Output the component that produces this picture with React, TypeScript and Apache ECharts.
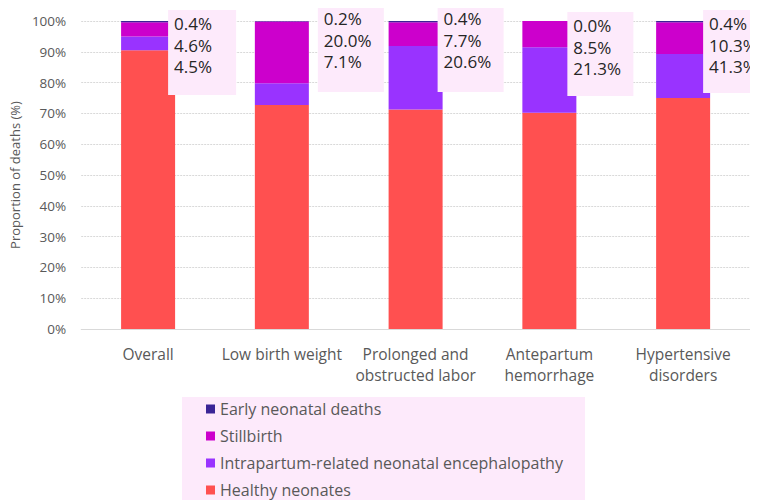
import React, { useEffect, useRef } from "react";
import * as echarts from "echarts";

const categories = [
  "Overall",
  "Low birth weight",
  "Prolonged and\nobstructed labor",
  "Antepartum\nhemorrhage",
  "Hypertensive\ndisorders",
];
const seriesNames = [
  "Early neonatal deaths",
  "Stillbirth",
  "Intrapartum-related neonatal encephalopathy",
  "Healthy neonates",
];
// values (%)
const healthy = [90.5, 72.7, 71.3, 70.2, 75.0];
const intrapartum = [4.5, 7.1, 20.6, 21.3, 14.3];
const stillbirth = [4.6, 20.0, 7.7, 8.5, 10.3];
const earlyNeonatal = [0.4, 0.2, 0.4, 0.0, 0.4];
// texts printed in the annotation boxes
const boxEarly = ["0.4%", "0.2%", "0.4%", "0.0%", "0.4%"];
const boxStill = ["4.6%", "20.0%", "7.7%", "8.5%", "10.3%"];
const boxIntra = ["4.5%", "7.1%", "20.6%", "21.3%", "41.3%"];

const colors = {
  early: "#3a2596",
  still: "#cc00cc",
  intra: "#9933ff",
  healthy: "#ff5050",
};
const PINK = "#fdeafb";
const FONT = "'Open Sans', 'Noto Sans', sans-serif";

// layout of the annotation boxes (relative to category centre and 100% line)
const boxDx = [20, 36, 22, 18, 20];
const boxDy = [-11, -16, -16, -9, -11];
const boxW = [68, 66, 66, 66, 62];
const boxH = [85, 87, 87, 84, 83];

export default function App() {
  const ref = useRef<HTMLDivElement>(null);
  useEffect(() => {
    if (!ref.current) return;
    const chart = echarts.init(ref.current, undefined, { renderer: "svg" });
    const bar = (name: string, data: number[], color: string) => ({
      name,
      type: "bar",
      stack: "total",
      data,
      barWidth: 54,
      itemStyle: { color },
      emphasis: { disabled: true },
    });
    chart.setOption({
      animation: false,
      textStyle: { fontFamily: FONT },
      grid: { left: 80, right: 8, top: 21, bottom: 171, containLabel: false },
      legend: {
        orient: "vertical",
        left: 206,
        top: 401,
        height: 200,
        padding: 0,
        itemGap: 11,
        itemWidth: 9,
        itemHeight: 9,
        icon: "rect",
        data: seriesNames,
        textStyle: { color: "#595959", fontSize: 16, lineHeight: 16, fontFamily: FONT },
      },
      xAxis: {
        type: "category",
        data: categories,
        axisLine: { lineStyle: { color: "#d9d9d9" } },
        axisTick: { show: false },
        axisLabel: {
          color: "#595959",
          fontSize: 15.5,
          lineHeight: 21,
          margin: 14,
          fontFamily: FONT,
          interval: 0,
        },
      },
      yAxis: {
        type: "value",
        min: 0,
        max: 100,
        interval: 10,
        name: "Proportion of deaths (%)",
        nameLocation: "middle",
        nameGap: 55,
        nameTextStyle: { color: "#595959", fontSize: 13, fontFamily: FONT },
        axisLine: { show: false },
        axisTick: { show: false },
        axisLabel: {
          formatter: "{value}%",
          color: "#595959",
          fontSize: 13.5,
          margin: 15,
          fontFamily: FONT,
        },
        splitLine: { lineStyle: { color: "#d9d9d9", type: [2, 1] } },
      },
      series: [
        bar(seriesNames[3], healthy, colors.healthy),
        bar(seriesNames[2], intrapartum, colors.intra),
        bar(seriesNames[1], stillbirth, colors.still),
        bar(seriesNames[0], earlyNeonatal, colors.early),
      ],
    });

    const graphics: any[] = [
      {
        type: "rect",
        z: -10,
        shape: { x: 182, y: 397, width: 403, height: 110 },
        style: { fill: PINK },
        silent: true,
      },
    ];
    categories.forEach((c, i) => {
      const [cx, top] = chart.convertToPixel({ gridIndex: 0 } as any, [i, 100]) as number[];
      const x = cx + boxDx[i];
      const y = top + boxDy[i];
      graphics.push({
        type: "rect",
        z: 100,
        shape: { x, y, width: boxW[i], height: boxH[i] },
        style: { fill: PINK },
        silent: true,
      });
      graphics.push({
        type: "text",
        z: 101,
        x: x + 6,
        y: y + 3,
        style: {
          text: [boxEarly[i], boxStill[i], boxIntra[i]].join("\n"),
          fill: "#262626",
          font: `17px ${FONT}`,
          lineHeight: 21.5,
          textVerticalAlign: "top",
        },
        silent: true,
      });
    });
    chart.setOption({ graphic: graphics });
    return () => chart.dispose();
  }, []);
  return (
    <div
      ref={ref}
      style={{ width: 758, height: 500, marginTop: -8, marginLeft: -8 }}
    />
  );
}
